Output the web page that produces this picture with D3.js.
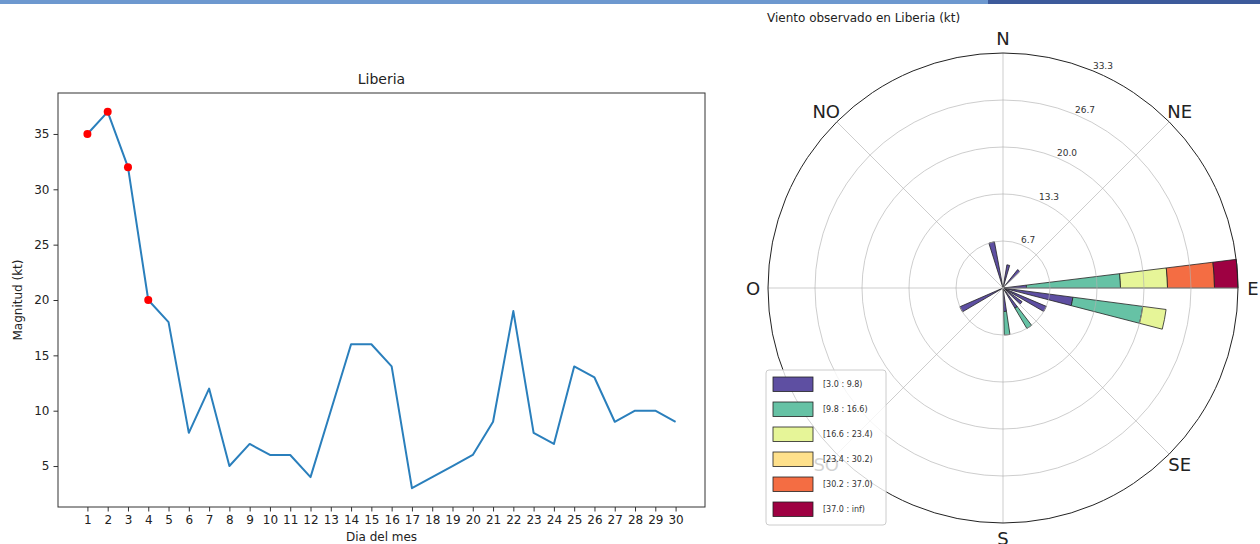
<!DOCTYPE html>
<html>
<head>
<meta charset="utf-8">
<script src="https://cdn.jsdelivr.net/npm/d3@7"></script>
<style>
  body { margin: 0; background: #fff; }
  svg { display: block; }
  text { font-family: "DejaVu Sans", sans-serif; }
</style>
</head>
<body>
<svg id="fig" width="1260" height="544"></svg>
<script>
// ---- daily wind speed at Liberia (kt) ----
const days = d3.range(1, 31);
const speeds = [35, 37, 32, 20, 18, 8, 12, 5, 7, 6, 6, 4, 10, 16, 16, 14, 3, 4, 5, 6, 9, 19, 8, 7, 14, 13, 9, 10, 10, 9];
const markedDays = [1, 2, 3, 4];
const yTicks = [5, 10, 15, 20, 25, 30, 35];

// ---- wind rose: days per speed bin for each observed direction ----
const speedBins = ["[3.0 : 9.8)", "[9.8 : 16.6)", "[16.6 : 23.4)", "[23.4 : 30.2)", "[30.2 : 37.0)", "[37.0 : inf)"];
const binColors = ["#5e4fa2", "#66c2a5", "#e6f598", "#fee08b", "#f46d43", "#9e0142"];
const roseDirections = [86.5, 101, 116.5, 129, 146, 175, 243, 346, 13, 42]; // bar centres, degrees from north
const roseCounts = [
  [1, 4, 2, 0, 2, 1],
  [3, 3, 1, 0, 0, 0],
  [2, 0, 0, 0, 0, 0],
  [1, 0, 0, 0, 0, 0],
  [1, 1, 0, 0, 0, 0],
  [1, 1, 0, 0, 0, 0],
  [2, 0, 0, 0, 0, 0],
  [2, 0, 0, 0, 0, 0],
  [1, 0, 0, 0, 0, 0],
  [1, 0, 0, 0, 0, 0]
];
const compassLabels = ["N", "NE", "E", "SE", "S", "SO", "O", "NO"];

const svg = d3.select("#fig");

// page header strip
svg.append("rect").attr("x", 0).attr("y", 0).attr("width", 988).attr("height", 4).attr("fill", "#6d98cf");
svg.append("rect").attr("x", 988).attr("y", 0).attr("width", 272).attr("height", 4).attr("fill", "#3d5a9b");

// ================= line chart =================
const plot = { left: 58, right: 705, top: 93, bottom: 507 };
const pad = (30 - 1) * 0.05;
const x = d3.scaleLinear().domain([1 - pad, 30 + pad]).range([plot.left, plot.right]);
const yExt = d3.extent(speeds);
const yPad = (yExt[1] - yExt[0]) * 0.05;
const y = d3.scaleLinear().domain([yExt[0] - yPad, yExt[1] + yPad]).range([plot.bottom, plot.top]);

const gL = svg.append("g");

const xAxis = gL.append("g")
  .attr("transform", `translate(0,${plot.bottom})`)
  .call(d3.axisBottom(x).tickValues(days).tickFormat(d3.format("d")).tickSize(4.5).tickPadding(4));
const yAxis = gL.append("g")
  .attr("transform", `translate(${plot.left},0)`)
  .call(d3.axisLeft(y).tickValues(yTicks).tickSize(4.5).tickPadding(4));
[xAxis, yAxis].forEach(a => {
  a.select(".domain").remove();
  a.selectAll(".tick line").attr("stroke", "#333").attr("stroke-width", 1);
  a.selectAll(".tick text").attr("fill", "#222").style("font-size", "12px");
});

gL.append("rect")
  .attr("x", plot.left).attr("y", plot.top)
  .attr("width", plot.right - plot.left).attr("height", plot.bottom - plot.top)
  .attr("fill", "none").attr("stroke", "#333").attr("stroke-width", 1);

gL.append("path")
  .datum(days.map((d, i) => [d, speeds[i]]))
  .attr("fill", "none").attr("stroke", "#2a7fbc").attr("stroke-width", 2)
  .attr("stroke-linejoin", "round")
  .attr("d", d3.line().x(d => x(d[0])).y(d => y(d[1])));

gL.selectAll("circle.mark")
  .data(markedDays)
  .join("circle")
  .attr("class", "mark")
  .attr("cx", d => x(d)).attr("cy", d => y(speeds[d - 1]))
  .attr("r", 4).attr("fill", "red");

gL.append("text").attr("x", (plot.left + plot.right) / 2).attr("y", 84)
  .attr("text-anchor", "middle").style("font-size", "14px").attr("fill", "#222").text("Liberia");
gL.append("text").attr("x", (plot.left + plot.right) / 2).attr("y", 541)
  .attr("text-anchor", "middle").style("font-size", "12px").attr("fill", "#222").text("Dia del mes");
gL.append("text")
  .attr("transform", `translate(22,${(plot.top + plot.bottom) / 2}) rotate(-90)`)
  .attr("text-anchor", "middle").style("font-size", "12px").attr("fill", "#222").text("Magnitud (kt)");

// ================= wind rose =================
const cx = 1003, cy = 288, R = 235;
const nDays = d3.sum(roseCounts.flat());
const freq = roseCounts.map(row => row.map(c => c / nDays * 100));
const rMax = d3.max(freq, row => d3.sum(row));
const r = d3.scaleLinear().domain([0, rMax]).range([0, R]);
const rTicks = d3.range(1, 6).map(k => rMax * k / 5);
const barWidth = 7; // degrees
const rad = deg => deg * Math.PI / 180;

const gR = svg.append("g").attr("transform", `translate(${cx},${cy})`);

// stacked wedges
const arc = d3.arc();
const segments = [];
roseDirections.forEach((dir, j) => {
  let base = 0;
  freq[j].forEach((v, i) => {
    if (v > 0) segments.push({ dir, i, r0: base, r1: base + v });
    base += v;
  });
});
gR.selectAll("path.wedge")
  .data(segments)
  .join("path")
  .attr("class", "wedge")
  .attr("d", s => arc({
    innerRadius: r(s.r0), outerRadius: r(s.r1),
    startAngle: rad(s.dir - barWidth / 2), endAngle: rad(s.dir + barWidth / 2)
  }))
  .attr("fill", s => binColors[s.i])
  .attr("stroke", "#222").attr("stroke-width", 0.8).attr("stroke-linejoin", "miter");

// grid (drawn over the wedges)
gR.selectAll("circle.grid")
  .data(rTicks.slice(0, -1))
  .join("circle")
  .attr("class", "grid")
  .attr("r", d => r(d)).attr("fill", "none")
  .attr("stroke", "#b0b0b0").attr("stroke-opacity", 0.8).attr("stroke-width", 0.8);
gR.selectAll("line.spoke")
  .data(d3.range(0, 360, 45))
  .join("line")
  .attr("class", "spoke")
  .attr("x1", 0).attr("y1", 0)
  .attr("x2", a => R * Math.sin(rad(a))).attr("y2", a => -R * Math.cos(rad(a)))
  .attr("stroke", "#b0b0b0").attr("stroke-opacity", 0.8).attr("stroke-width", 0.8);
gR.append("circle").attr("r", R).attr("fill", "none").attr("stroke", "#222").attr("stroke-width", 1);

// radial labels along 22.5 deg
gR.selectAll("text.rlab")
  .data(rTicks)
  .join("text")
  .attr("class", "rlab")
  .attr("x", d => r(d) * Math.sin(rad(22.5)))
  .attr("y", d => -r(d) * Math.cos(rad(22.5)) - 1.5)
  .style("font-size", "9px").attr("fill", "#333")
  .text(d3.format(".1f"));

// compass labels
gR.selectAll("text.compass")
  .data(compassLabels)
  .join("text")
  .attr("class", "compass")
  .attr("x", (d, i) => 250 * Math.sin(rad(i * 45)))
  .attr("y", (d, i) => -250 * Math.cos(rad(i * 45)))
  .attr("text-anchor", "middle").attr("dominant-baseline", "central")
  .style("font-size", "18px").attr("fill", "#222")
  .text(d => d);

svg.append("text").attr("x", 767).attr("y", 22)
  .style("font-size", "12px").attr("fill", "#222").text("Viento observado en Liberia (kt)");

// legend
const lg = svg.append("g").attr("transform", "translate(766,370)");
lg.append("rect").attr("width", 120).attr("height", 155).attr("rx", 3)
  .attr("fill", "#fff").attr("fill-opacity", 0.8).attr("stroke", "#ccc").attr("stroke-width", 1);
const rows = lg.selectAll("g.row").data(speedBins).join("g")
  .attr("class", "row").attr("transform", (d, i) => `translate(0,${7 + i * 25})`);
rows.append("rect").attr("x", 7).attr("width", 40).attr("height", 14.5)
  .attr("fill", (d, i) => binColors[i]).attr("stroke", "#222").attr("stroke-width", 0.8);
rows.append("text").attr("x", 57).attr("y", 7.5).attr("dominant-baseline", "central")
  .style("font-size", "8px").attr("fill", "#333").text(d => d);
</script>
</body>
</html>
